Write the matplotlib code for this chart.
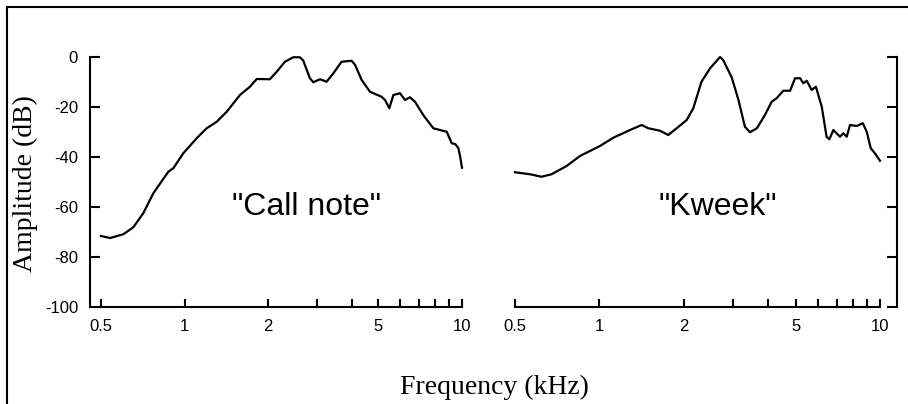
import matplotlib
matplotlib.use("Agg")
import matplotlib.pyplot as plt
from matplotlib.lines import Line2D

# spectra (freq kHz, amplitude dB)
call_f = [0.5, 0.539, 0.602, 0.654, 0.710, 0.772, 0.874, 0.911, 0.990, 1.106,
          1.202, 1.306, 1.419, 1.584, 1.721, 1.82, 2.03, 2.149, 2.30, 2.466,
          2.606, 2.68, 2.83, 2.91, 3.08, 3.25, 3.44, 3.68, 4.00, 4.12,
          4.35, 4.66, 5.13, 5.28, 5.47, 5.66, 5.98, 6.23, 6.49, 6.77,
          7.25, 7.88, 8.33, 8.81, 9.18, 9.45, 9.7, 9.85, 10.0]
call_db = [-71.6, -72.4, -70.9, -68.1, -62.5, -54.5, -45.9, -44.5, -38.5, -32.5,
           -28.5, -25.9, -21.9, -15.2, -11.9, -8.8, -8.9, -5.9, -1.9, -0.1,
           -0.1, -1.5, -8.5, -10.1, -8.9, -9.9, -6.5, -1.9, -1.5, -3.2,
           -9.2, -13.9, -15.9, -17.2, -20.5, -15.2, -14.5, -17.2, -16.1, -17.9,
           -23.2, -28.5, -29.2, -29.9, -34.5, -34.8, -36.4, -39.9, -44.3]

kweek_f = [0.5, 0.565, 0.622, 0.675, 0.764, 0.852, 1.004, 1.120, 1.285, 1.414,
           1.493, 1.644, 1.759, 1.885, 2.046, 2.16, 2.31, 2.48, 2.69, 2.76,
           2.96, 3.13, 3.30, 3.44, 3.64, 3.89, 4.11, 4.28, 4.52, 4.78,
           4.98, 5.19, 5.33, 5.48, 5.71, 5.91, 6.20, 6.45, 6.60, 6.82,
           7.20, 7.40, 7.61, 7.82, 8.26, 8.68, 8.97, 9.27, 9.59, 10.0]
kweek_db = [-46.1, -46.9, -47.9, -46.9, -43.6, -39.6, -35.6, -32.3, -29.2, -27.2,
            -28.5, -29.5, -31.2, -28.5, -25.2, -20.5, -9.9, -4.5, 0.0, -1.2,
            -8.1, -17.2, -27.9, -30.1, -28.5, -23.2, -17.9, -16.5, -13.5, -13.5,
            -8.5, -8.5, -10.5, -9.5, -13.2, -11.9, -19.9, -31.9, -32.9, -29.2,
            -31.9, -30.5, -31.9, -27.2, -27.6, -26.5, -29.9, -36.5, -38.5, -41.5]

xticks = [0.5, 1, 2, 3, 4, 5, 6, 7, 8, 9, 10]
xlabels = ["0.5", "1", "2", "", "", "5", "", "", "", "", "10"]
yticks = [0, -20, -40, -60, -80, -100]

plt.rcParams['font.family'] = ['Liberation Sans', 'DejaVu Sans']

fig = plt.figure(figsize=(9.08, 4.04), dpi=100)
ax1 = fig.add_axes([101/908, 97/404, 361/908, 250/404])
ax2 = fig.add_axes([515/908, 97/404, 365/908, 250/404])

for ax, f, db, side in [(ax1, call_f, call_db, 'left'), (ax2, kweek_f, kweek_db, 'right')]:
    ax.plot(f, db, color='black', lw=1.6, clip_on=False)
    ax.set_xscale('log')
    ax.set_xlim(0.5, 10)
    ax.set_ylim(-100, 0)
    ax.set_xticks(xticks)
    ax.set_xticklabels(xlabels)
    ax.minorticks_off()
    ax.set_yticks(yticks)
    for s in ['top', 'left', 'right']:
        ax.spines[s].set_visible(False)
    ax.spines['bottom'].set_linewidth(1.5)
    ax.spines[side].set_visible(True)
    ax.spines[side].set_linewidth(1.5)
    ax.patch.set_visible(False)
    ax.tick_params(axis='x', direction='in', length=6, width=1.5, labelsize=12, pad=8.5)
    ax.tick_params(axis='y', direction='in', length=7, width=1.5, labelsize=12, pad=8.5)

ax1.spines['left'].set_position(('outward', 8))
ax1.set_yticklabels([str(v) for v in yticks])
ax2.spines['right'].set_position(('outward', 12.2))
ax2.yaxis.tick_right()
ax2.set_yticklabels([])

ax1.text(2.76, -60, '"Call note"', fontsize=23, ha='center', va='center')
ax2.text(2.65, -60, '"Kweek"', fontsize=23, ha='center', va='center')

fig.text(25/908, 1 - 184/404, 'Amplitude (dB)', rotation=90, ha='center', va='center',
         fontsize=20, family='Liberation Serif')
fig.text(494/908, 1 - 387/404, 'Frequency (kHz)', ha='center', va='center',
         fontsize=20, family='Liberation Serif')

# outer frame (cut at right and bottom)
fig.add_artist(Line2D([7/908, 7/908], [0, 1 - 7/404], color='black', lw=1.5))
fig.add_artist(Line2D([7/908, 1], [1 - 7/404, 1 - 7/404], color='black', lw=1.5))

fig.savefig('out.png', dpi=100)
